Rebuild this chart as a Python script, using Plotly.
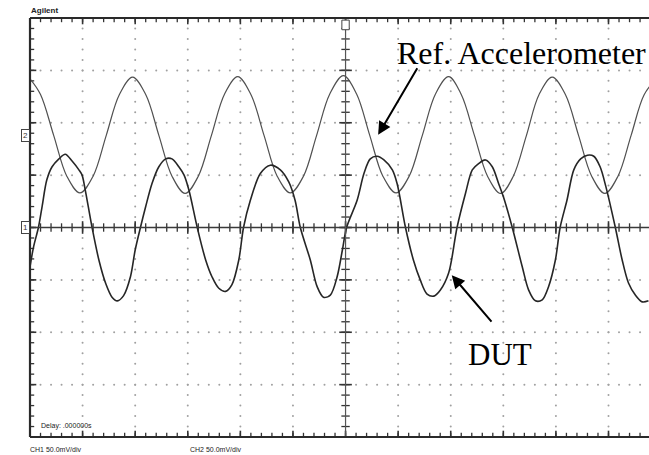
import numpy as np
import plotly.graph_objects as go

# ---- data (time and voltage in screen divisions; 50 mV/div) ----
ref_t = [0.0, 0.2, 0.45, 0.7, 0.95, 1.2, 1.45, 1.7, 1.95,
         2.2, 2.45, 2.7, 2.95, 3.2, 3.45, 3.7, 3.95,
         4.2, 4.45, 4.7, 4.95, 5.2, 5.45, 5.7, 5.96,
         6.21, 6.46, 6.71, 6.96, 7.21, 7.46, 7.71, 7.96,
         8.2, 8.45, 8.7, 8.95, 9.19, 9.44, 9.68, 9.93,
         10.18, 10.43, 10.68, 10.93, 11.18, 11.43, 11.68, 11.93]
ref_v = [2.84, 2.54, 1.76, 0.98, 0.66, 0.98, 1.76, 2.54, 2.87,
         2.54, 1.76, 0.98, 0.65, 0.98, 1.76, 2.55, 2.88,
         2.54, 1.76, 0.98, 0.66, 0.98, 1.76, 2.55, 2.90,
         2.55, 1.76, 0.98, 0.66, 0.98, 1.76, 2.55, 2.88,
         2.54, 1.76, 0.98, 0.65, 0.98, 1.76, 2.54, 2.87,
         2.54, 1.76, 0.98, 0.65, 0.98, 1.76, 2.54, 2.86]

dut_t = [0.00, 0.07, 0.16, 0.23, 0.32, 0.42, 0.55, 0.67, 0.80, 0.93, 0.99, 1.05,
         1.18, 1.31, 1.44, 1.56, 1.66, 1.78, 1.91, 2.00,
         2.10, 2.20, 2.32, 2.45, 2.58, 2.70, 2.83, 2.93, 3.02,
         3.18, 3.34, 3.46, 3.59, 3.72, 3.84, 3.97,
         4.06, 4.19, 4.38, 4.57, 4.76, 4.92, 5.04,
         5.14, 5.33, 5.46, 5.58, 5.71, 5.84, 5.94,
         6.02, 6.22, 6.35, 6.47, 6.60, 6.73, 6.89, 6.98,
         7.14, 7.29, 7.42, 7.55, 7.68, 7.80, 7.96,
         8.12, 8.28, 8.41, 8.53, 8.66, 8.79, 8.91, 9.00,
         9.17, 9.36, 9.48, 9.61, 9.74, 9.86, 9.99,
         10.08, 10.21, 10.34, 10.47, 10.60, 10.72, 10.84, 10.95,
         11.13, 11.26, 11.38, 11.51, 11.64, 11.76]
dut_v = [-0.75, -0.36, 0.00, 0.40, 0.91, 1.16, 1.31, 1.40, 1.27, 1.10, 1.00, 0.72,
         0.00, -0.62, -1.07, -1.33, -1.40, -1.30, -0.94, -0.43,
         0.00, 0.40, 0.84, 1.16, 1.31, 1.31, 1.16, 1.00, 0.72,
         0.00, -0.62, -0.94, -1.16, -1.22, -1.09, -0.62,
         0.00, 0.52, 1.03, 1.19, 1.10, 0.87, 0.52,
         0.00, -0.62, -1.13, -1.33, -1.29, -0.94, -0.43,
         0.00, 0.52, 1.03, 1.31, 1.36, 1.29, 1.10, 0.84,
         0.00, -0.62, -1.00, -1.27, -1.31, -1.20, -0.87,
         0.00, 0.65, 1.10, 1.22, 1.29, 1.16, 0.84, 0.59,
         0.00, -0.75, -1.19, -1.40, -1.38, -1.13, -0.62,
         0.00, 0.52, 1.10, 1.31, 1.38, 1.36, 1.16, 0.78,
         0.00, -0.62, -1.06, -1.29, -1.42, -1.40]

assert len(ref_t) == len(ref_v)
assert len(dut_t) == len(dut_v)

X_RANGE = [0, 11.77]
Y_RANGE = [-4, 4]

fig = go.Figure()

# ---- graticule dots ----
gx, gy = [], []
for xv in range(1, 12):
    if xv == 6:
        continue
    for yv in np.arange(-4, 4.001, 0.2):
        gx.append(xv); gy.append(round(yv, 2))
for yv in range(-3, 4):
    if yv == 0:
        continue
    for xv in np.arange(0, 11.8, 0.2):
        gx.append(round(xv, 2)); gy.append(yv)
fig.add_trace(go.Scatter(x=gx, y=gy, mode="markers",
                         marker=dict(size=2, color="#a0a0a0"),
                         hoverinfo="skip", showlegend=False))

# ---- axis lines (center) ----
fig.add_shape(type="line", xref="x", yref="y", x0=0, x1=X_RANGE[1], y0=0, y1=0,
              line=dict(color="#3a3a3a", width=1.5))
fig.add_shape(type="line", xref="x", yref="y", x0=6, x1=6, y0=-4, y1=4,
              line=dict(color="#555555", width=1.2))

# ---- tick marks ----
tx = [round(v, 2) for v in np.arange(0, 11.8, 0.2)]
ty = [round(v, 2) for v in np.arange(-4, 4.001, 0.2)]
for yline in (0, 4, -4):
    fig.add_trace(go.Scatter(x=tx, y=[yline] * len(tx), mode="markers",
                             marker=dict(symbol="line-ns", size=6,
                                         line=dict(color="#333333", width=1.3)),
                             hoverinfo="skip", showlegend=False))
    maj = [v for v in range(0, 12)]
    fig.add_trace(go.Scatter(x=maj, y=[yline] * len(maj), mode="markers",
                             marker=dict(symbol="line-ns", size=9,
                                         line=dict(color="#333333", width=1.6)),
                             hoverinfo="skip", showlegend=False))
for xline in (0, 6):
    fig.add_trace(go.Scatter(x=[xline] * len(ty), y=ty, mode="markers",
                             marker=dict(symbol="line-ew", size=6,
                                         line=dict(color="#333333", width=1.3)),
                             hoverinfo="skip", showlegend=False))
    maj = [v for v in range(-4, 5)]
    fig.add_trace(go.Scatter(x=[xline] * len(maj), y=maj, mode="markers",
                             marker=dict(symbol="line-ew", size=9,
                                         line=dict(color="#333333", width=1.6)),
                             hoverinfo="skip", showlegend=False))

# ---- waveforms ----
fig.add_trace(go.Scatter(x=ref_t, y=ref_v, mode="lines",
                         line=dict(color="#505050", width=1.2, shape="spline", smoothing=1.0),
                         hoverinfo="skip", showlegend=False, name="Ref. Accelerometer"))
fig.add_trace(go.Scatter(x=dut_t, y=dut_v, mode="lines",
                         line=dict(color="#262626", width=1.6, shape="spline", smoothing=0.9),
                         hoverinfo="skip", showlegend=False, name="DUT"))

# ---- borders ----
for (x0, y0, x1, y1) in [(0, 1, 1, 1), (0, 0, 1, 0), (0, 0, 0, 1)]:
    fig.add_shape(type="line", xref="paper", yref="paper", x0=x0, y0=y0, x1=x1, y1=y1,
                  line=dict(color="#2a2a2a", width=2.2))

# trigger marker at top centre
fig.add_shape(type="rect", xref="x", yref="paper", x0=5.93, x1=6.07, y0=0.972, y1=0.995,
              line=dict(color="#444444", width=1), fillcolor="white")

# ---- annotations ----
small = dict(family="Liberation Sans, Arial", color="#222222")
ann = [
    dict(text="<b>Agilent</b>", x=-0.002, y=1.003, xanchor="left", yanchor="bottom",
         font=dict(size=8, **small)),
    dict(text="Delay: .000000s", x=0.015, y=0.026, xanchor="left", yanchor="middle",
         font=dict(size=7, **small)),
    dict(text="CH1 50.0mV/div", x=-0.003, y=-0.031, xanchor="left", yanchor="middle",
         font=dict(size=7, **small)),
    dict(text="CH2 50.0mV/div", x=0.256, y=-0.031, xanchor="left", yanchor="middle",
         font=dict(size=7, **small)),
    dict(text="Ref. Accelerometer", x=(395 - 30) / 619, y=(437 - 53) / 419,
         xanchor="left", yanchor="middle",
         font=dict(family="Liberation Serif, Times New Roman", size=32, color="black")),
    dict(text="DUT", x=(466 - 30) / 619, y=(437 - 354) / 419,
         xanchor="left", yanchor="middle",
         font=dict(family="Liberation Serif, Times New Roman", size=31, color="black")),
]
for a in ann:
    a.update(xref="paper", yref="paper", showarrow=False)
    fig.add_annotation(**a)

# channel markers
for lab, yv in (("1", 0.0), ("2", 1.75)):
    fig.add_annotation(text=lab, xref="paper", yref="y", x=-0.014, y=yv,
                       showarrow=False, font=dict(size=8, color="#333333", family="Liberation Sans"),
                       bordercolor="#444444", borderwidth=1, borderpad=1, bgcolor="white")

# arrows
fig.add_annotation(x=6.62, y=1.77, xref="x", yref="y", text="", showarrow=True,
                   arrowhead=2, arrowsize=1.3, arrowwidth=2, arrowcolor="black",
                   ax=40, ay=-68)
fig.add_annotation(x=8.02, y=-0.91, xref="x", yref="y", text="", showarrow=True,
                   arrowhead=2, arrowsize=1.3, arrowwidth=2, arrowcolor="black",
                   ax=41, ay=48)

fig.update_layout(
    width=649, height=455, autosize=False,
    margin=dict(l=30, r=0, t=18, b=18),
    paper_bgcolor="white", plot_bgcolor="white",
    xaxis=dict(range=X_RANGE, visible=False, showgrid=False, zeroline=False, fixedrange=True),
    yaxis=dict(range=Y_RANGE, visible=False, showgrid=False, zeroline=False, fixedrange=True),
    showlegend=False,
)

fig.write_html("out.html")
